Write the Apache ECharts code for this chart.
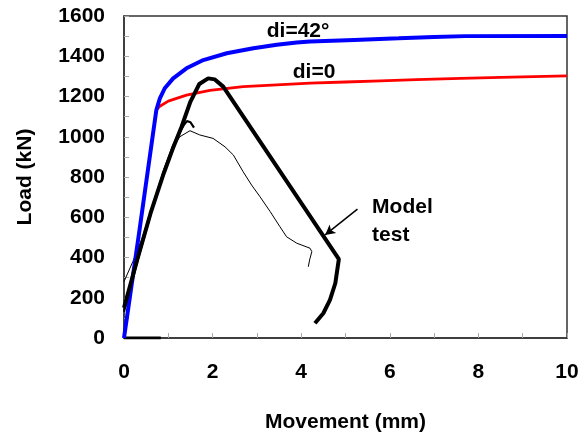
<!DOCTYPE html>
<html>
<head>
<meta charset="utf-8">
<script src="https://cdn.jsdelivr.net/npm/echarts@6/dist/echarts.min.js"></script>
<style>
  html, body { margin: 0; padding: 0; background: #ffffff; }
  #chart { width: 588px; height: 438px; }
</style>
</head>
<body>
<div id="chart"></div>
<script>
// Load–movement curves: [movement (mm), load (kN)]
const curveDi42 = [[0,0],[0.35,537],[0.73,1133],[0.81,1191],[0.92,1241],[1.11,1290],[1.41,1340],[1.79,1381],[2.32,1415],[2.92,1440],[3.45,1457],[3.9,1468],[4.2,1473],[5.2,1481],[6.2,1489],[7.0,1496],[7.7,1500],[10,1501]];
const curveDi0 = [[0.73,1133],[0.8,1150],[1.0,1177],[1.41,1207],[1.94,1230],[2.69,1249],[3.45,1258],[4.2,1266],[5.0,1272],[5.79,1278],[6.6,1284],[7.6,1290],[8.5,1295],[10,1302]];
const modelTest = [[0,150],[0.3,390],[0.6,620],[0.9,820],[1.1,940],[1.3,1050],[1.5,1175],[1.7,1262],[1.9,1290],[2.05,1285],[2.24,1249],[4.85,392],[4.77,272],[4.65,189],[4.5,123],[4.31,73]];
const testB = [[0,130],[0.3,380],[0.6,615],[0.9,830],[1.1,950],[1.25,1020],[1.35,1058],[1.42,1078],[1.5,1072],[1.58,1045]];
const testC = [[0,280],[0.2,380],[0.4,490],[0.6,630],[0.9,835],[1.1,945],[1.26,1000],[1.49,1030],[1.71,1009],[2.01,992],[2.28,950],[2.47,909],[2.69,826],[2.88,760],[3.07,702],[3.3,628],[3.52,553],[3.67,503],[3.9,471],[4.2,446],[4.24,429],[4.19,388],[4.16,354]];
const baseSegment = [[0,0],[0.83,0]];

// Annotation anchors in data units
const labelDi42 = [3.93, 1525];
const labelDi0 = [4.29, 1319];
const labelModel = [5.6, 720];
const arrowFrom = [5.27, 640];
const arrowTo = [4.54, 512];

const fontFamily = '"Liberation Sans", Arial, sans-serif';
const chart = echarts.init(document.getElementById('chart'), null, { renderer: 'canvas' });

function line(name, data, color, width, extra) {
  return Object.assign({
    name, type: 'line', data, showSymbol: false, symbol: 'none', smooth: false,
    lineStyle: { color, width }, itemStyle: { color }, silent: true, z: 3
  }, extra || {});
}

chart.setOption({
  animation: false,
  backgroundColor: '#ffffff',
  grid: { left: 124, right: 21, top: 16, bottom: 100, show: true, borderColor: '#333', borderWidth: 1.5, backgroundColor: 'transparent' },
  xAxis: {
    type: 'value', min: 0, max: 10, interval: 1,
    name: 'Movement (mm)', nameLocation: 'middle', nameGap: 74,
    nameTextStyle: { fontSize: 21, fontWeight: 'bold', color: '#000', fontFamily },
    axisLine: { lineStyle: { color: '#333', width: 1.5 } },
    axisTick: { inside: true, length: 5, lineStyle: { color: '#aaa', width: 1 } },
    axisLabel: { margin: 24, fontSize: 21, fontWeight: 'bold', color: '#000', fontFamily,
      formatter: v => (v % 2 === 0 ? String(v) : '') },
    splitLine: { show: false }
  },
  yAxis: {
    type: 'value', min: 0, max: 1600, interval: 100,
    name: 'Load (kN)', nameLocation: 'middle', nameGap: 88,
    nameTextStyle: { fontSize: 21, fontWeight: 'bold', color: '#000', fontFamily },
    axisLine: { show: true, lineStyle: { color: '#333', width: 1.5 } },
    axisTick: { show: true, inside: true, length: 5, lineStyle: { color: '#aaa', width: 1 } },
    axisLabel: { margin: 19, fontSize: 21, fontWeight: 'bold', color: '#000', fontFamily,
      formatter: v => (v % 200 === 0 ? String(v) : '') },
    splitLine: { show: false }
  },
  series: [
    line('testC', testC, '#000', 1),
    line('testB', testB, '#000', 2.2),
    line('base', baseSegment, '#000', 3),
    line('di=0', curveDi0, '#ff0000', 2.8),
    line('di=42°', curveDi42, '#0000ff', 4),
    line('Model test', modelTest, '#000', 4, {
      markLine: {
        silent: true, animation: false,
        symbol: ['none', 'arrow'], symbolSize: [8, 10],
        label: { show: false },
        lineStyle: { color: '#000', width: 1.5, type: 'solid' },
        data: [[{ coord: arrowFrom }, { coord: arrowTo }]]
      }
    })
  ]
});

// Text annotations placed from data coordinates
const toPx = p => chart.convertToPixel({ gridIndex: 0 }, p);
const textStyle = { fontSize: 21, fontWeight: 'bold', fill: '#000', fontFamily };
const p42 = toPx(labelDi42), p0 = toPx(labelDi0), pm = toPx(labelModel);
chart.setOption({
  graphic: [
    { type: 'text', x: p42[0], y: p42[1], z: 10, style: Object.assign({ text: 'di=42°', align: 'center', verticalAlign: 'middle' }, textStyle) },
    { type: 'text', x: p0[0], y: p0[1], z: 10, style: Object.assign({ text: 'di=0', align: 'center', verticalAlign: 'middle' }, textStyle) },
    { type: 'text', x: pm[0], y: pm[1], z: 10, style: Object.assign({ text: 'Model\ntest', align: 'left', verticalAlign: 'top', lineHeight: 28 }, textStyle) }
  ]
});
</script>
</body>
</html>
